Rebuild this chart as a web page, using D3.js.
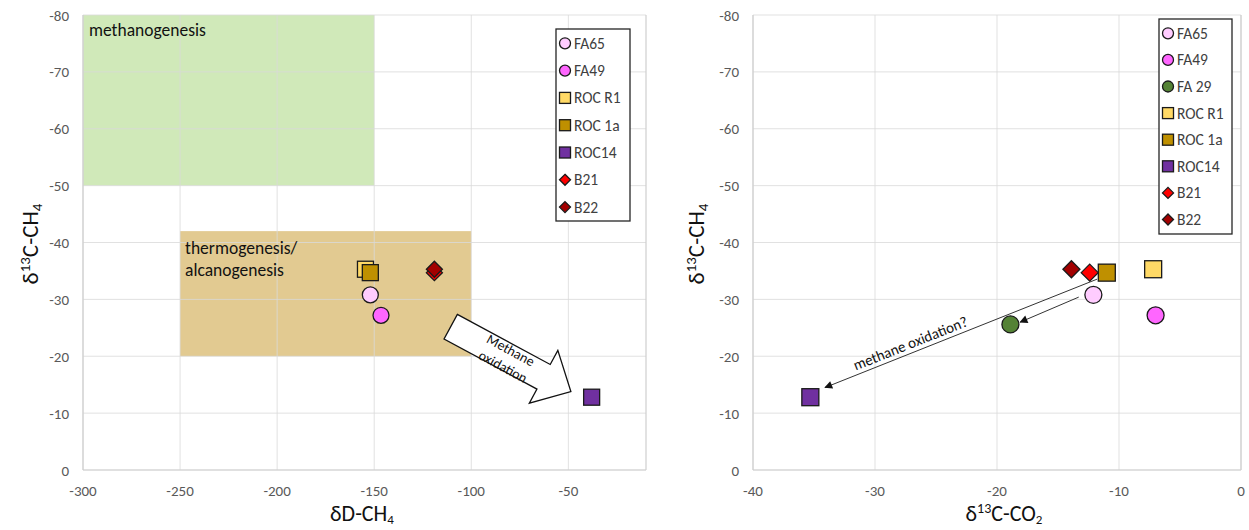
<!DOCTYPE html>
<html>
<head>
<meta charset="utf-8">
<script src="https://cdn.jsdelivr.net/npm/d3@7/dist/d3.min.js"></script>
<style>
  html, body { margin: 0; padding: 0; background: #fff; }
  svg { display: block; font-family: Calibri, Carlito, Lato, "Open Sans", sans-serif; }
</style>
</head>
<body>
<svg id="chart" width="1249" height="530"></svg>
<script>
// ---- Sample data -------------------------------------------------------
const sampleNames = ["FA65", "FA49", "FA 29", "ROC R1", "ROC 1a", "ROC14", "B21", "B22"];
const d13C_CH4    = [-30.8, -27.2, -25.6, -35.3, -34.7, -12.8, -34.7, -35.3];
const dD_CH4      = [-152, -146.5, null, -154.5, -152, -38, -119, -119];
const d13C_CO2    = [-12.1, -7.0, -18.9, -7.2, -11.0, -35.3, -12.4, -13.9];

// ---- Axis ticks --------------------------------------------------------
const yTicks      = [-80, -70, -60, -50, -40, -30, -20, -10, 0];
const xTicksLeft  = [-300, -250, -200, -150, -100, -50];
const xTicksRight = [-40, -30, -20, -10, 0];

// ---- Genetic fields in the dD / d13C plane ------------------------------
const fieldLines  = [["methanogenesis"], ["thermogenesis/", "alcanogenesis"]];
const fieldDD     = [[-300, -150], [-250, -100]];
const fieldC13    = [[-80, -50], [-42, -20]];

// ---- Marker styling per sample -----------------------------------------
const markerShape = ["circle", "circle", "circle", "square", "square", "square", "diamond", "diamond"];
const markerFill  = ["#ffccff", "#ff66ff", "#548235", "#ffd966", "#bf9000", "#7030a0", "#ff0000", "#a30000"];
const fieldFill   = ["#d0e9b9", "#e2ca91"];

const svg = d3.select("#chart");

function marker(g, shape, fill, size) {
  const s = size;
  let el;
  if (shape === "circle") {
    el = g.append("circle").attr("r", s / 2);
  } else if (shape === "square") {
    el = g.append("rect").attr("x", -s / 2).attr("y", -s / 2).attr("width", s).attr("height", s);
  } else {
    const h = s * 0.5;
    el = g.append("path").attr("d", `M0,${-h}L${h},0L0,${h}L${-h},0Z`);
  }
  el.attr("fill", fill).attr("stroke", "#1a1a1a").attr("stroke-width", 1.3);
  return el;
}

function drawPanel(cfg) {
  const x = d3.scaleLinear().domain(cfg.xDomain).range(cfg.xRange);
  const y = d3.scaleLinear().domain([-80, 0]).range([15, 470]);
  const g = svg.append("g");

  // shaded fields
  if (cfg.fields) {
    fieldLines.forEach((lines, i) => {
      const x0 = x(fieldDD[i][0]), x1 = x(fieldDD[i][1]);
      const y0 = y(fieldC13[i][0]), y1 = y(fieldC13[i][1]);
      g.append("rect").attr("x", x0).attr("y", y0)
        .attr("width", x1 - x0).attr("height", y1 - y0)
        .attr("fill", fieldFill[i]);
    });
  }

  // gridlines
  const grid = g.append("g").attr("stroke", "#d9d9d9").attr("stroke-opacity", 0.8).attr("stroke-width", 1);
  cfg.xTicks.forEach(t => {
    grid.append("line").attr("x1", x(t)).attr("x2", x(t)).attr("y1", y(-80)).attr("y2", y(0));
  });
  yTicks.forEach(t => {
    grid.append("line").attr("x1", cfg.xRange[0]).attr("x2", cfg.xRange[1]).attr("y1", y(t)).attr("y2", y(t));
  });
  // frame lines
  const frame = g.append("g").attr("stroke", "#cfcfcf").attr("stroke-width", 1.2);
  frame.append("line").attr("x1", cfg.xRange[0]).attr("x2", cfg.xRange[1]).attr("y1", y(0)).attr("y2", y(0));
  frame.append("line").attr("x1", cfg.xRange[0]).attr("x2", cfg.xRange[0]).attr("y1", y(-80)).attr("y2", y(0));
  frame.append("line").attr("x1", cfg.xRange[1]).attr("x2", cfg.xRange[1]).attr("y1", y(-80)).attr("y2", y(0));

  // field labels
  if (cfg.fields) {
    const offs = [[6, 21], [5, 23]];
    fieldLines.forEach((lines, i) => {
      const t = g.append("text").attr("font-size", 17.5).attr("fill", "#111");
      lines.forEach((ln, j) => {
        t.append("tspan").attr("x", x(fieldDD[i][0]) + offs[i][0])
          .attr("y", y(fieldC13[i][0]) + offs[i][1] + j * 22).text(ln);
      });
    });
  }

  // tick labels
  const tl = g.append("g").attr("font-size", 15).attr("fill", "#595959");
  cfg.xTicks.forEach(t => {
    tl.append("text").attr("x", x(t)).attr("y", 496).attr("text-anchor", "middle").text(t);
  });
  yTicks.forEach(t => {
    tl.append("text").attr("x", cfg.xRange[0] - 14).attr("y", y(t) + 5.5).attr("text-anchor", "end").text(t);
  });

  // axis titles
  const yt = g.append("text").attr("font-size", 23).attr("fill", "#111")
    .attr("text-anchor", "middle")
    .attr("transform", `translate(${cfg.yTitleX},244) rotate(-90)`);
  yt.append("tspan").text("δ");
  yt.append("tspan").attr("font-size", 15).attr("dy", -8).text("13");
  yt.append("tspan").attr("dy", 8).text("C-CH");
  yt.append("tspan").attr("font-size", 15).attr("dy", 4).text("4");

  const xt = g.append("text").attr("font-size", 22).attr("fill", "#111")
    .attr("text-anchor", "middle").attr("x", cfg.xTitleX).attr("y", 521);
  cfg.xTitle(xt);

  return { g, x, y };
}

// ---------------- Left panel: dD-CH4 vs d13C-CH4 -----------------------
const left = drawPanel({
  xDomain: [-300, -10], xRange: [83, 646], xTicks: xTicksLeft, fields: true,
  yTitleX: 38, xTitleX: 362,
  xTitle: t => {
    t.append("tspan").text("δD-CH");
    t.append("tspan").attr("font-size", 13).attr("dy", 2.5).text("4");
  }
});

// block arrow: methane oxidation trend
(function () {
  const { g, x, y } = left;
  const from = [x(-110.6), y(-25.2)], to = [x(-48.7), y(-13.8)];
  const dx = to[0] - from[0], dy = to[1] - from[1];
  const L = Math.hypot(dx, dy), ang = Math.atan2(dy, dx) * 180 / Math.PI;
  const sw = 14, hw = 30, hl = 31;
  const pts = [[0, -sw], [L - hl, -sw], [L - hl, -hw], [L, 0], [L - hl, hw], [L - hl, sw], [0, sw]];
  const a = g.append("g").attr("transform", `translate(${from[0]},${from[1]}) rotate(${ang})`);
  a.append("path").attr("d", "M" + pts.map(p => p.join(",")).join("L") + "Z")
    .attr("fill", "#fff").attr("stroke", "#111").attr("stroke-width", 1.3).attr("stroke-linejoin", "miter");
  const t = a.append("text").attr("font-size", 14).attr("fill", "#111").attr("text-anchor", "middle");
  t.append("tspan").attr("x", 64).attr("y", -3).text("Methane");
  t.append("tspan").attr("x", 65).attr("y", 15).text("oxidation");
})();

// markers
sampleNames.forEach((name, i) => {
  if (dD_CH4[i] == null) return;
  const m = left.g.append("g").attr("transform", `translate(${left.x(dD_CH4[i])},${left.y(d13C_CH4[i])})`);
  marker(m, markerShape[i], markerFill[i], 16);
});

// ---------------- Right panel: d13C-CO2 vs d13C-CH4 ---------------------
const right = drawPanel({
  xDomain: [-40, 0], xRange: [753, 1241], xTicks: xTicksRight, fields: false,
  yTitleX: 704, xTitleX: 1004,
  xTitle: t => {
    t.append("tspan").text("δ");
    t.append("tspan").attr("font-size", 14).attr("dy", -8).text("13");
    t.append("tspan").attr("dy", 8).text("C-CO");
    t.append("tspan").attr("font-size", 13).attr("dy", 2.5).text("2");
  }
});

// oxidation arrows
(function () {
  const { g, x, y } = right;
  const defs = svg.append("defs");
  defs.append("marker").attr("id", "ah").attr("viewBox", "0 0 10 10")
    .attr("refX", 9).attr("refY", 5).attr("markerWidth", 10).attr("markerHeight", 8)
    .attr("markerUnits", "userSpaceOnUse").attr("orient", "auto")
    .append("path").attr("d", "M0,0L10,5L0,10Z").attr("fill", "#111");
  const arrows = [[[-11.8, -33.55], [-34.1, -14.5]], [[-13.3, -30.4], [-18.1, -26.0]]];
  arrows.forEach(([a, b]) => {
    g.append("line").attr("x1", x(a[0])).attr("y1", y(a[1])).attr("x2", x(b[0])).attr("y2", y(b[1]))
      .attr("stroke", "#333").attr("stroke-width", 1).attr("marker-end", "url(#ah)");
  });
  const a = arrows[0];
  const ang = Math.atan2(y(a[1][1]) - y(a[0][1]), x(a[1][0]) - x(a[0][0])) * 180 / Math.PI + 180;
  g.append("text").attr("font-size", 15).attr("fill", "#111").attr("text-anchor", "middle")
    .attr("dy", "0.35em")
    .attr("transform", `translate(${x(-27.1)},${y(-22.3)}) rotate(${ang})`)
    .text("methane oxidation?");
})();

sampleNames.forEach((name, i) => {
  const m = right.g.append("g").attr("transform", `translate(${right.x(d13C_CO2[i])},${right.y(d13C_CH4[i])})`);
  marker(m, markerShape[i], markerFill[i], 17);
});

// ---------------- Legends ----------------------------------------------
function legend(box, rowStart, rowStep, indices) {
  const g = svg.append("g");
  g.append("rect").attr("x", box[0]).attr("y", box[1]).attr("width", box[2]).attr("height", box[3])
    .attr("fill", "#fff").attr("stroke", "#262626").attr("stroke-width", 1.3);
  indices.forEach((i, k) => {
    const cy = rowStart + k * rowStep;
    const m = g.append("g").attr("transform", `translate(${box[0] + 9},${cy})`);
    marker(m, markerShape[i], markerFill[i], 11);
    g.append("text").attr("x", box[0] + 18).attr("y", cy + 5.5).attr("font-size", 15.5)
      .attr("fill", "#404040").text(sampleNames[i]);
  });
}
legend([556, 29, 74, 192], 43.3, 27.3, sampleNames.map((_, i) => i).filter(i => dD_CH4[i] != null));
legend([1159, 19, 73, 215], 33.3, 26.6, sampleNames.map((_, i) => i));
</script>
</body>
</html>
